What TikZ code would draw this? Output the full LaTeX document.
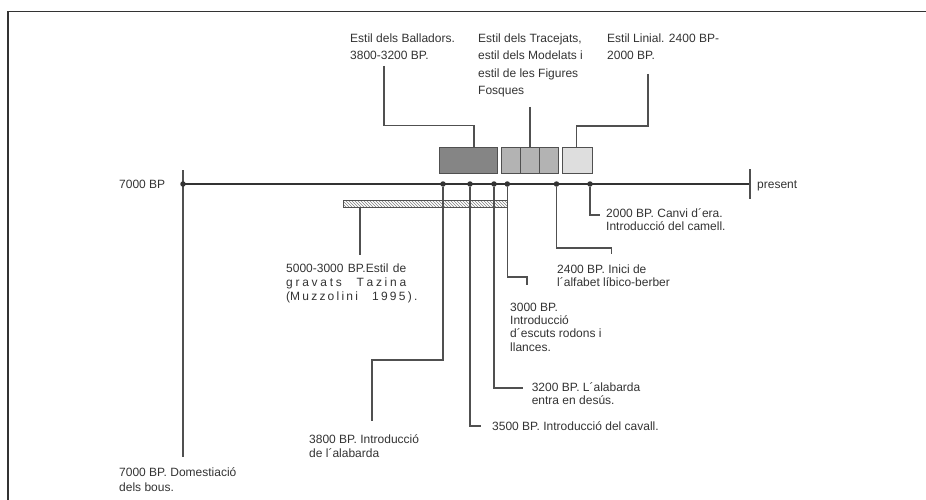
\documentclass[tikz,border=0pt]{standalone}
\usepackage{fontspec}
\setmainfont{Liberation Sans}
\usepackage{tikz}
\usetikzlibrary{patterns}

\definecolor{ink}{HTML}{333333}
\definecolor{rule}{HTML}{505050}
\definecolor{darkbox}{HTML}{858585}
\definecolor{midbox}{HTML}{B3B3B3}
\definecolor{lightbox}{HTML}{DEDEDE}

\begin{document}
\begin{tikzpicture}[x=1pt, y=-1pt,
  lbl/.style={font=\fontsize{12}{13}\selectfont, text=ink, inner sep=0pt, align=left, anchor=north west},
  conn/.style={draw=rule, line width=1.2pt},
  dot/.style={circle, fill=ink, inner sep=0pt, minimum size=5.5pt},
  era/.style={draw=rule, line width=0.9pt, minimum height=26pt, inner sep=0pt, anchor=south west}]
  \useasboundingbox (0,0) rectangle (926,500);
  % Frame
  \draw[line width=1.6pt, draw=ink] (8,500) -- (8,11.5) -- (926,11.5);
  % Time line
  \coordinate (t0) at (183,184);
  \coordinate (t1) at (750,184);
  \draw[line width=1.5pt, draw=ink] (t0) -- (t1);
  \draw[conn] (750,169) -- (750,199);
  \coordinate (top7000) at (183,170);
  \coordinate (e7000) at (183,457);
  \draw[conn] (top7000) -- (e7000);
  \node[lbl, anchor=base west] (l7000) at (119,188.3) {7000 BP};
  \node[lbl, anchor=base west] (lpres) at (757,188.3) {present};
  % Periods
  \node[era, fill=darkbox, minimum width=58pt] (bBall) at (439,174) {};
  \foreach \i in {0,1,2}
    \node[era, fill=midbox, minimum width=19pt] (bTra\i) at (501+\i*19,174) {};
  \node[era, fill=lightbox, minimum width=30pt] (bLin) at (561.7,174) {};
  \node[draw=rule, line width=0.8pt, pattern=north west lines, pattern color=gray,
    minimum width=164pt, minimum height=7pt, inner sep=0pt, anchor=north west] (bTaz) at (343,200) {};
  % Dated events
  \foreach \n/\x in {7000/183, 3800/443, 3500/470, 3200/494, 3000/507.3, 2400/556.5, 2000/590}
    \node[dot] (d\n) at (\x,184) {};
  % Style labels (above)
  \node[lbl, font=\fontsize{12}{17.3}\selectfont] (lBall) at (350,33.7) {Estil dels Balladors.\\3800-3200 BP.};
  \node[lbl, font=\fontsize{12}{17.3}\selectfont] (lTra) at (478,33.7) {Estil dels Tracejats,\\estil dels Modelats i\\estil de les Figures\\Fosques};
  \node[lbl, font=\fontsize{12}{17.3}\selectfont] (lLin) at (607,33.7) {Estil Linial. 2400 BP-\\2000 BP.};
  \coordinate (pBall) at (384,66);
  \coordinate (kBall) at (474,125.5);
  \draw[conn] (pBall) |- (kBall) -- (bBall.north -| kBall);
  \coordinate (pTra) at (530,107);
  \draw[conn] (pTra) -- (pTra |- bTra1.north);
  \coordinate (pLin) at (648,74);
  \coordinate (kLin) at (576.5,126);
  \draw[conn] (pLin) |- (kLin) -- (kLin |- bLin.north);
  % Tazina
  \coordinate (eTaz) at (360,255);
  \draw[conn] (bTaz.south -| eTaz) -- (eTaz);
  \node[lbl, font=\fontsize{12}{14}\selectfont] (lTaz) at (286,263.7)
    {\makebox[120pt][s]{5000-3000 BP.Estil de}\\\makebox[120pt][s]{g r a v a t s \quad T a z i n a}\\\makebox[120pt][s]{(M u z z o l i n i \quad 1 9 9 5 ) .}};
  % Event labels (below)
  \coordinate (e2000) at (600,215);
  \draw[conn] (d2000.south) |- (e2000);
  \node[lbl, font=\fontsize{12}{12.5}\selectfont] (l2000) at (606,208.7) {2000 BP. Canvi d´era.\\Introducció del camell.};
  \coordinate (k2400) at (611.5,248);
  \coordinate (e2400) at (611.5,254);
  \draw[conn] (d2400.south) |- (k2400) -- (e2400);
  \node[lbl, font=\fontsize{12}{12.7}\selectfont] (l2400) at (557,264.7) {2400 BP. Inici de\\l´alfabet líbico-berber};
  \coordinate (k3000) at (527,277);
  \coordinate (e3000) at (527,285);
  \draw[conn] (d3000.south) |- (k3000) -- (e3000);
  \node[lbl, font=\fontsize{12}{13.3}\selectfont] (l3000) at (510,302.7) {3000 BP.\\Introducció\\d´escuts rodons i\\llances.};
  \coordinate (e3200) at (523,388);
  \draw[conn] (d3200.south) |- (e3200);
  \node[lbl, font=\fontsize{12}{12.5}\selectfont] (l3200) at (531.6,382.7) {3200 BP. L´alabarda\\entra en desús.};
  \coordinate (e3500) at (481,426);
  \draw[conn] (d3500.south) |- (e3500);
  \node[lbl, anchor=base west] (l3500) at (492,430.3) {3500 BP. Introducció del cavall.};
  \coordinate (k3800) at (372,360);
  \coordinate (e3800) at (372,421);
  \draw[conn] (d3800.south) |- (k3800) -- (e3800);
  \node[lbl, font=\fontsize{12}{14}\selectfont] (l3800) at (309,434.7) {3800 BP. Introducció\\de l´alabarda};
  \node[lbl, font=\fontsize{12}{15}\selectfont] (lDom) at (119,467.4) {7000 BP. Domestiació\\dels bous.};
\end{tikzpicture}
\end{document}
